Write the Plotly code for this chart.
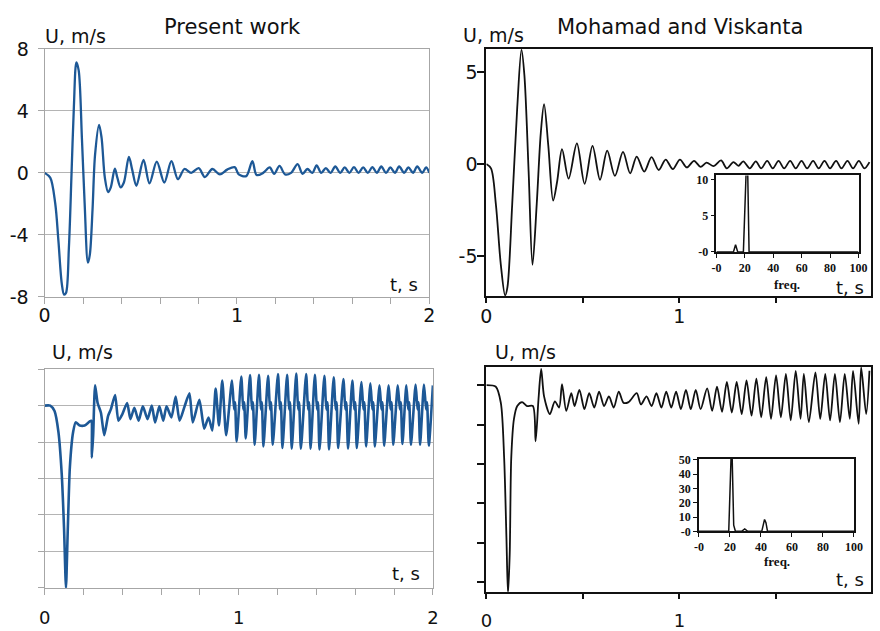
import plotly.graph_objects as go

W, H = 880, 631

# ---------------- data ----------------
# Present work, case 1 (top-left)
pw1_t = [0.000, 0.029, 0.055, 0.072, 0.089, 0.101, 0.111, 0.126, 0.140, 0.152, 0.165, 0.177, 0.194, 0.208,
         0.225, 0.235, 0.249, 0.262, 0.283, 0.296, 0.313, 0.330, 0.344, 0.365, 0.378, 0.395, 0.412, 0.438,
         0.455, 0.477, 0.514, 0.545, 0.583, 0.622, 0.659, 0.693, 0.727, 0.762, 0.801, 0.833, 0.872, 0.911,
         0.949, 0.988, 1.009, 1.048, 1.080, 1.102, 1.136, 1.170, 1.193, 1.221, 1.250, 1.281, 1.315, 1.341,
         1.366, 1.392, 1.414, 1.438, 1.462, 1.486, 1.511, 1.537, 1.560, 1.584, 1.608, 1.632, 1.656, 1.680,
         1.704, 1.727, 1.750, 1.775, 1.797, 1.821, 1.843, 1.869, 1.891, 1.915, 1.937, 1.963, 1.983, 2.000]
pw1_u = [0.00, -0.31, -1.96, -4.44, -7.13, -7.85, -7.75, -4.86, 0.00, 4.24, 7.13, 6.61, 2.17, -1.96,
         -5.79, -5.27, -2.38, 1.14, 3.10, 2.27, -0.31, -1.24, -0.93, 0.27, -0.31, -0.93, -0.62, 1.03,
         0.21, -0.83, 0.83, -0.68, 0.72, -0.62, 0.76, -0.41, 0.25, 0.00, 0.31, -0.27, 0.25, -0.10,
         0.21, 0.37, -0.10, -0.21, 0.76, -0.14, 0.00, 0.35, -0.06, 0.45, -0.10, 0.00, 0.56, -0.06,
         0.25, 0.00, 0.48, 0.00, 0.31, 0.00, 0.41, 0.00, 0.35, 0.00, 0.37, 0.00, 0.35, 0.00,
         0.37, 0.00, 0.41, 0.00, 0.35, 0.00, 0.41, 0.00, 0.35, 0.00, 0.41, 0.00, 0.35, 0.00]

# Mohamad and Viskanta, case 1 (top-right)
mv1_t = [0.000, 0.024, 0.049, 0.075, 0.097, 0.109, 0.134, 0.160, 0.182, 0.197, 0.219, 0.239, 0.261, 0.282,
         0.299, 0.321, 0.346, 0.367, 0.392, 0.426, 0.469, 0.509, 0.550, 0.589, 0.626, 0.666, 0.708, 0.745,
         0.779, 0.818, 0.856, 0.893, 0.929, 0.966, 1.003, 1.039, 1.076, 1.110, 1.141, 1.178, 1.216, 1.246,
         1.280, 1.306, 1.331, 1.365, 1.396, 1.424, 1.455, 1.484, 1.514, 1.543, 1.574, 1.603, 1.633, 1.662,
         1.693, 1.722, 1.752, 1.781, 1.812, 1.840, 1.871, 1.900, 1.930, 1.959, 1.985]
mv1_u = [0.00, -0.24, -2.17, -5.49, -7.15, -6.71, -2.17, 3.08, 6.22, 4.83, -0.42, -5.49, -2.17, 1.68,
         3.25, 0.98, -1.99, -0.94, 0.80, -0.80, 1.12, -1.08, 0.98, -0.86, 0.72, -0.65, 0.66, -0.51,
         0.40, -0.42, 0.37, -0.33, 0.24, -0.28, 0.24, -0.19, 0.17, -0.16, 0.07, -0.12, 0.19, -0.24,
         0.10, -0.10, 0.14, -0.24, 0.14, -0.24, 0.17, -0.24, 0.17, -0.24, 0.17, -0.24, 0.17, -0.24,
         0.17, -0.24, 0.17, -0.24, 0.17, -0.24, 0.17, -0.24, 0.17, -0.24, 0.10]

# Present work, case 2 (bottom-left)
pw2_t = [0.000, 0.029, 0.051, 0.071, 0.088, 0.100, 0.110, 0.118, 0.130, 0.147, 0.160, 0.181, 0.206, 0.231,
         0.240, 0.243, 0.250, 0.260, 0.273, 0.290, 0.307, 0.327, 0.341, 0.363, 0.380, 0.400, 0.425, 0.442,
         0.462, 0.484, 0.506, 0.530, 0.552, 0.569, 0.591, 0.611, 0.628, 0.653, 0.675, 0.695, 0.721, 0.746,
         0.763, 0.797, 0.822, 0.844, 0.864, 0.881, 0.898, 0.915, 0.935,
         0.965, 0.976, 0.981, 0.989, 1.013, 1.023, 1.028, 1.036, 1.058, 1.068, 1.073, 1.082,
         1.104, 1.114, 1.119, 1.127, 1.151, 1.161, 1.166, 1.175, 1.202, 1.212, 1.217, 1.225,
         1.249, 1.259, 1.264, 1.273, 1.296, 1.306, 1.311, 1.320, 1.347, 1.357, 1.362, 1.370,
         1.392, 1.403, 1.408, 1.416, 1.441, 1.451, 1.457, 1.465, 1.489, 1.499, 1.504, 1.512,
         1.539, 1.549, 1.554, 1.563, 1.585, 1.595, 1.600, 1.608, 1.632, 1.642, 1.647, 1.656,
         1.678, 1.688, 1.693, 1.701, 1.725, 1.735, 1.740, 1.749, 1.772, 1.782, 1.787, 1.796,
         1.819, 1.830, 1.835, 1.843, 1.863, 1.873, 1.878, 1.887, 1.911, 1.921, 1.926, 1.934,
         1.954, 1.965, 1.970, 1.979, 2.000]
pw2_u = [0.00, 0.00, -0.30, -1.44, -3.74, -6.73, -10.00, -7.26, -3.38, -1.44, -0.92, -1.09, -1.09, -0.88,
         -0.83, -2.85, -1.62, 1.11, 0.14, -0.39, -1.62, -0.56, -0.21, 0.58, -0.83, -0.48, 0.14, -0.74,
         -0.12, -0.83, -0.04, -0.74, 0.00, -0.92, -0.04, -0.83, -0.04, -0.65, 0.49, -0.83, -0.04, 0.67,
         -0.92, 0.32, -1.27, -0.65, -1.36, 0.93, -1.09, 1.37, -1.62,
         1.37, -0.21, 0.18, -1.97, 1.59, -0.21, 0.18, -1.80, 1.67, -0.21, 0.18, -2.15,
         1.69, -0.21, 0.18, -2.24, 1.64, -0.21, 0.18, -2.15, 1.73, -0.21, 0.18, -2.33,
         1.69, -0.21, 0.18, -2.36, 1.76, -0.21, 0.18, -2.36, 1.73, -0.21, 0.18, -2.36,
         1.69, -0.21, 0.18, -2.41, 1.64, -0.21, 0.18, -2.41, 1.55, -0.21, 0.18, -2.33,
         1.46, -0.21, 0.18, -2.36, 1.37, -0.21, 0.18, -2.33, 1.29, -0.21, 0.18, -2.24,
         1.23, -0.21, 0.18, -2.24, 1.11, -0.21, 0.18, -2.20, 1.11, -0.21, 0.18, -2.15,
         1.11, -0.21, 0.18, -2.11, 1.11, -0.21, 0.18, -2.15, 1.16, -0.21, 0.18, -2.15,
         1.16, -0.21, 0.18, -2.19, 1.11]

# Mohamad and Viskanta, case 2 (bottom-right)
mv2_t = [0.000, 0.049, 0.075, 0.092, 0.104, 0.112, 0.121, 0.129, 0.143, 0.160, 0.185, 0.211, 0.241, 0.255,
         0.270, 0.284, 0.299, 0.329, 0.355, 0.377, 0.392, 0.414, 0.440, 0.457, 0.482, 0.508, 0.533, 0.559,
         0.584, 0.610, 0.635, 0.660, 0.686, 0.711, 0.737, 0.779, 0.801, 0.830, 0.856, 0.881, 0.907, 0.932,
         0.958, 0.983, 1.008, 1.034, 1.059, 1.085, 1.110, 1.144, 1.170, 1.195, 1.221, 1.246, 1.272, 1.297,
         1.323, 1.348, 1.374, 1.399, 1.424, 1.450, 1.475, 1.501, 1.526, 1.552, 1.577, 1.603, 1.628, 1.645,
         1.671, 1.705, 1.730, 1.756, 1.781, 1.806, 1.832, 1.857, 1.883, 1.900, 1.929, 1.942, 1.968, 1.985]
mv2_u = [0.00, -0.08, -0.90, -3.67, -7.75, -10.60, -8.56, -3.67, -1.71, -1.06, -0.86, -1.06, -1.06, -2.85,
         -0.73, 0.82, -0.57, -1.47, -0.82, -1.14, 0.05, -1.31, -0.41, -1.06, -0.24, -1.22, -0.41, -1.14,
         -0.33, -1.06, -0.57, -1.14, -0.33, -0.90, -0.86, -0.41, -0.98, -0.57, -1.06, -0.41, -1.14, -0.33,
         -1.14, -0.33, -1.22, -0.24, -1.22, -0.24, -1.22, -0.16, -1.31, -0.08, -1.35, 0.16, -1.39, 0.16,
         -1.47, 0.24, -1.55, 0.33, -1.63, 0.41, -1.71, 0.49, -1.63, 0.57, -1.79, 0.73, -1.71, 0.57,
         -1.88, 0.65, -1.71, 0.57, -1.79, 0.57, -1.88, 0.57, -1.71, 0.73, -1.96, 0.90, -1.47, 0.73]

# Spectra (insets)
spec1_f = [0, 12, 13.5, 15, 19, 20, 21, 22, 23, 100]
spec1_a = [0, 0, 1.0, 0, 0, 5.0, 11.5, 11.5, 0, 0]
spec2_f = [0, 19.2, 20.7, 21.4, 22.4, 23.5, 27.5, 29.5, 31.5, 40.5, 42.3, 43.2, 44.2, 100]
spec2_a = [0, 0, 52, 52, 4.3, 0, 0, 1.7, 0, 0, 8.3, 6.0, 0, 0]

# tick labels
tl_y_ticks = [-8, -4, 0, 4, 8]
tl_y_text = ["-8", "-4", "0", "4", "8"]
tr_y_ticks = [-5, 0, 5]
tr_y_text = ["-5", "0", "5"]
t_minor = [0, 0.2, 0.4, 0.6, 0.8, 1.0, 1.2, 1.4, 1.6, 1.8, 2.0]
t_minor_text = ["0", "", "", "", "", "1", "", "", "", "", "2"]
mv_t_ticks = [0, 0.5, 1.0, 1.5]
mv_t_text = ["0", "", "1", ""]
bl_y_grid = [-10, -8, -6, -4, -2, 0, 2]
br_y_ticks = [-10, -8, -6, -4, -2, 0]
spec_f_ticks = [0, 20, 40, 60, 80, 100]
spec_f_text = ["-0", "20", "40", "60", "80", "100"]
spec1_a_ticks = [0, 5, 10]
spec1_a_text = ["-0", "5", "10"]
spec2_a_ticks = [0, 10, 20, 30, 40, 50]
spec2_a_text = ["-0", "10", "20", "30", "40", "50"]

# ---------------- layout helpers ----------------
def dx(a, b):
    return [a / W, b / W]

def dy(top, bottom):
    return [1 - bottom / H, 1 - top / H]

BLUE = "#1d5896"
GRID = "#b4b4b4"
AXC = "#a6a6a6"
FONT = "DejaVu Sans"
SERIF = "Liberation Serif"

fig = go.Figure()
fig.add_trace(go.Scatter(x=pw1_t, y=pw1_u, mode="lines", line=dict(color=BLUE, width=2.3, shape="spline", smoothing=0.9), xaxis="x", yaxis="y"))
fig.add_trace(go.Scatter(x=mv1_t, y=mv1_u, mode="lines", line=dict(color="#111", width=1.8, shape="spline", smoothing=0.9), xaxis="x2", yaxis="y2"))
fig.add_trace(go.Scatter(x=pw2_t, y=pw2_u, mode="lines", line=dict(color=BLUE, width=2.6, shape="spline", smoothing=0.6), xaxis="x3", yaxis="y3"))
fig.add_trace(go.Scatter(x=mv2_t, y=mv2_u, mode="lines", line=dict(color="#111", width=1.8, shape="spline", smoothing=0.8), xaxis="x4", yaxis="y4"))
fig.add_trace(go.Scatter(x=spec1_f, y=spec1_a, mode="lines", line=dict(color="#111", width=1.5), xaxis="x5", yaxis="y5"))
fig.add_trace(go.Scatter(x=spec2_f, y=spec2_a, mode="lines", line=dict(color="#111", width=1.5), xaxis="x6", yaxis="y6"))

gray_x = dict(showline=True, linecolor=AXC, linewidth=1.2, mirror=True, showgrid=False, zeroline=False,
              ticks="outside", ticklen=6, tickcolor=AXC, tickvals=t_minor, ticktext=t_minor_text,
              tickfont=dict(family=FONT, size=19, color="#111"), range=[0, 2])
gray_y = dict(showline=True, linecolor=AXC, linewidth=1.2, mirror=True, showgrid=True, gridcolor=GRID,
              gridwidth=1.2, zeroline=False, ticks="outside", ticklen=6, tickcolor=AXC,
              tickfont=dict(family=FONT, size=19, color="#111"))
black_x = dict(showline=True, linecolor="#111", linewidth=2, mirror=True, showgrid=False, zeroline=False,
               ticks="outside", ticklen=5, tickcolor="#111", tickwidth=1.5, tickvals=mv_t_ticks, ticktext=mv_t_text,
               tickfont=dict(family=FONT, size=19, color="#111"), range=[0, 1.993])
black_y = dict(showline=True, linecolor="#111", linewidth=2, mirror=True, showgrid=False, zeroline=False,
               ticks="outside", ticklen=7, tickcolor="#111", tickwidth=1.5,
               tickfont=dict(family=FONT, size=19, color="#111"))
ins_x = dict(showline=True, linecolor="#111", linewidth=1.5, mirror=True, showgrid=False, zeroline=False,
             ticks="outside", ticklen=4, tickcolor="#111", tickvals=spec_f_ticks, ticktext=spec_f_text,
             tickfont=dict(family=SERIF, size=12, color="#111", weight="bold"), range=[0, 100])
ins_y = dict(showline=True, linecolor="#111", linewidth=1.5, mirror=True, showgrid=False, zeroline=False,
             ticks="outside", ticklen=4, tickcolor="#111",
             tickfont=dict(family=SERIF, size=12, color="#111", weight="bold"))

fig.update_layout(
    width=W, height=H, margin=dict(l=0, r=0, t=0, b=0), showlegend=False,
    paper_bgcolor="white", plot_bgcolor="white",
    xaxis=dict(gray_x, domain=dx(39.3, 430.7), anchor="y", ticklabelstandoff=-5),
    yaxis=dict(gray_y, domain=dy(39.3, 296.7), anchor="x", range=[-8, 8], tickvals=tl_y_ticks,
               ticktext=tl_y_text, ticklabelstandoff=5),
    xaxis2=dict(black_x, domain=dx(488.7, 880), anchor="y2", ticklabelstandoff=-3),
    yaxis2=dict(black_y, domain=dy(39.3, 295.7), anchor="x2", range=[-7.18, 6.26], tickvals=tr_y_ticks,
                ticktext=tr_y_text, ticklabelstandoff=-4),
    xaxis3=dict(gray_x, domain=dx(39.3, 434.3), anchor="y3", tickfont=dict(family=FONT, size=18, color="#111"),
                ticklabelstandoff=7),
    yaxis3=dict(gray_y, domain=dy(371.7, 598.7), anchor="x3", range=[-10, 2], tickvals=bl_y_grid,
                showticklabels=False),
    xaxis4=dict(black_x, domain=dx(488.7, 880), anchor="y4", tickfont=dict(family=FONT, size=18, color="#111"),
                ticklabelstandoff=7),
    yaxis4=dict(black_y, domain=dy(369.3, 602.7), anchor="x4", range=[-10.49, 0.93], tickvals=br_y_ticks,
                showticklabels=False),
    xaxis5=dict(ins_x, domain=dx(722.7, 867.3), anchor="y5"),
    yaxis5=dict(ins_y, domain=dy(170.7, 250), anchor="x5", range=[0, 10.6], tickvals=spec1_a_ticks,
                ticktext=spec1_a_text),
    xaxis6=dict(ins_x, domain=dx(705, 862.7), anchor="y6"),
    yaxis6=dict(ins_y, domain=dy(465, 540), anchor="x6", range=[0, 50.5], tickvals=spec2_a_ticks,
                ticktext=spec2_a_text),
)

def label(text, x, y, size=17, family=FONT, bold=False):
    fig.add_annotation(text=("<b>%s</b>" % text) if bold else text, x=x / W, y=1 - y / H,
                       xref="paper", yref="paper", xanchor="center", yanchor="middle", showarrow=False,
                       font=dict(family=family, size=size, color="#111"))

label("Present work", 230, 17, size=21)
label("Mohamad and Viskanta", 686, 17, size=21)
label("U, m/s", 71, 26, size=19)
label("U, m/s", 496, 25, size=19)
label("U, m/s", 78, 354, size=19)
label("U, m/s", 528, 354, size=19)
label("t, s", 405, 284, size=18)
label("t, s", 859, 287, size=18)
label("t, s", 407, 584, size=18)
label("t, s", 859, 590, size=18)
label("freq.", 795, 284, size=13, family=SERIF, bold=True)
label("freq.", 784, 571, size=13, family=SERIF, bold=True)

fig.write_html("out.html")
